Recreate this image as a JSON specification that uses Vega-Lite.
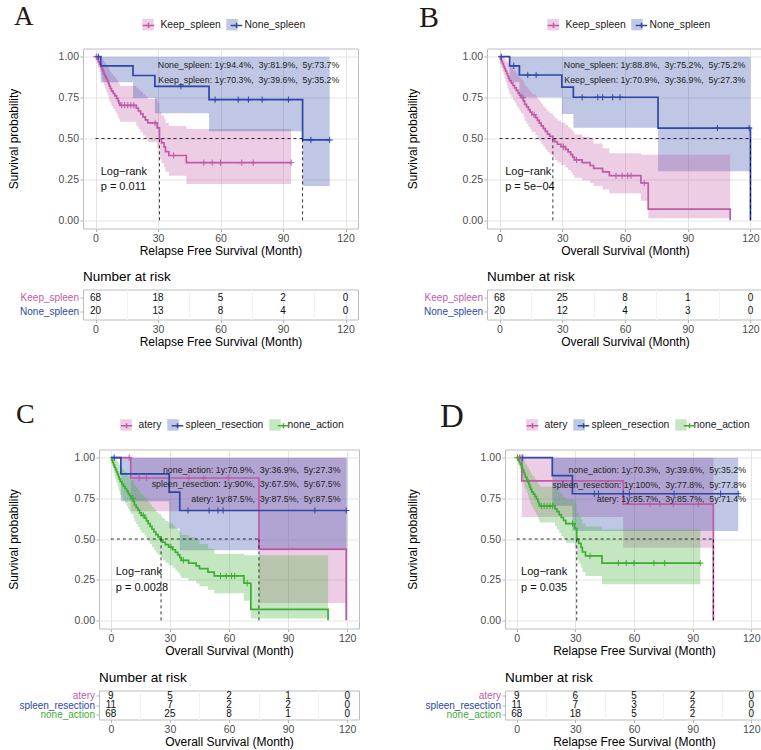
{
  "$schema": "https://vega.github.io/schema/vega-lite/v6.json",
  "background": "white",
  "padding": {"left": 5, "top": 2.5, "right": 0, "bottom": 0},
  "config": {
    "font": "Liberation Sans",
    "view": {"stroke": "#bdbdbd", "strokeWidth": 1},
    "axis": {
      "domain": false, "tickColor": "#b3b3b3", "tickSize": 3, "tickWidth": 1,
      "labelColor": "#4d4d4d", "labelFontSize": 10.5, "labelPadding": 1.5,
      "titleColor": "#000000", "titleFontSize": 12, "titleFontWeight": "normal", "titlePadding": 2,
      "gridColor": "#e4e4e4", "gridWidth": 1, "labelFlush": false, "labelOverlap": false
    }
  },
  "datasets": {
    "km": [
      {"p":"A","g":"Keep_spleen","t":0,"s":1,"lo":1,"hi":1},
      {"p":"A","g":"Keep_spleen","t":0.6,"s":0.985,"lo":0.957,"hi":1},
      {"p":"A","g":"Keep_spleen","t":1.4,"s":0.97,"lo":0.93,"hi":1},
      {"p":"A","g":"Keep_spleen","t":1.9,"s":0.955,"lo":0.907,"hi":1},
      {"p":"A","g":"Keep_spleen","t":2.5,"s":0.94,"lo":0.885,"hi":0.998},
      {"p":"A","g":"Keep_spleen","t":3.0,"s":0.925,"lo":0.864,"hi":0.99},
      {"p":"A","g":"Keep_spleen","t":3.5,"s":0.91,"lo":0.843,"hi":0.982},
      {"p":"A","g":"Keep_spleen","t":4.0,"s":0.895,"lo":0.824,"hi":0.972},
      {"p":"A","g":"Keep_spleen","t":4.4,"s":0.88,"lo":0.805,"hi":0.962},
      {"p":"A","g":"Keep_spleen","t":5.1,"s":0.865,"lo":0.786,"hi":0.952},
      {"p":"A","g":"Keep_spleen","t":5.7,"s":0.85,"lo":0.768,"hi":0.941},
      {"p":"A","g":"Keep_spleen","t":6.2,"s":0.835,"lo":0.75,"hi":0.93},
      {"p":"A","g":"Keep_spleen","t":6.6,"s":0.82,"lo":0.732,"hi":0.918},
      {"p":"A","g":"Keep_spleen","t":7.1,"s":0.805,"lo":0.715,"hi":0.906},
      {"p":"A","g":"Keep_spleen","t":7.7,"s":0.79,"lo":0.698,"hi":0.894},
      {"p":"A","g":"Keep_spleen","t":8.5,"s":0.775,"lo":0.681,"hi":0.882},
      {"p":"A","g":"Keep_spleen","t":9.3,"s":0.76,"lo":0.665,"hi":0.869},
      {"p":"A","g":"Keep_spleen","t":10.1,"s":0.745,"lo":0.648,"hi":0.857},
      {"p":"A","g":"Keep_spleen","t":10.8,"s":0.73,"lo":0.632,"hi":0.844},
      {"p":"A","g":"Keep_spleen","t":11.2,"s":0.718,"lo":0.618,"hi":0.834},
      {"p":"A","g":"Keep_spleen","t":11.7,"s":0.703,"lo":0.602,"hi":0.821},
      {"p":"A","g":"Keep_spleen","t":19.6,"s":0.685,"lo":0.578,"hi":0.81},
      {"p":"A","g":"Keep_spleen","t":20.6,"s":0.668,"lo":0.558,"hi":0.798},
      {"p":"A","g":"Keep_spleen","t":21.7,"s":0.65,"lo":0.538,"hi":0.785},
      {"p":"A","g":"Keep_spleen","t":22.8,"s":0.632,"lo":0.518,"hi":0.771},
      {"p":"A","g":"Keep_spleen","t":23.9,"s":0.614,"lo":0.498,"hi":0.757},
      {"p":"A","g":"Keep_spleen","t":25.1,"s":0.595,"lo":0.477,"hi":0.742},
      {"p":"A","g":"Keep_spleen","t":29.6,"s":0.565,"lo":0.444,"hi":0.719},
      {"p":"A","g":"Keep_spleen","t":30.7,"s":0.497,"lo":0.374,"hi":0.661},
      {"p":"A","g":"Keep_spleen","t":31.7,"s":0.473,"lo":0.35,"hi":0.64},
      {"p":"A","g":"Keep_spleen","t":32.9,"s":0.449,"lo":0.325,"hi":0.62},
      {"p":"A","g":"Keep_spleen","t":33.6,"s":0.42,"lo":0.297,"hi":0.595},
      {"p":"A","g":"Keep_spleen","t":35.2,"s":0.396,"lo":0.272,"hi":0.577},
      {"p":"A","g":"Keep_spleen","t":43.6,"s":0.352,"lo":0.222,"hi":0.558},
      {"p":"A","g":"Keep_spleen","t":93.9,"s":0.352,"lo":0.222,"hi":0.558},
      {"p":"A","g":"None_spleen","t":0,"s":1,"lo":1,"hi":1},
      {"p":"A","g":"None_spleen","t":2.5,"s":0.944,"lo":0.844,"hi":1},
      {"p":"A","g":"None_spleen","t":18,"s":0.885,"lo":0.748,"hi":1},
      {"p":"A","g":"None_spleen","t":28.5,"s":0.819,"lo":0.655,"hi":1},
      {"p":"A","g":"None_spleen","t":54.5,"s":0.737,"lo":0.544,"hi":1},
      {"p":"A","g":"None_spleen","t":99.4,"s":0.491,"lo":0.209,"hi":1},
      {"p":"A","g":"None_spleen","t":112.4,"s":0.491,"lo":0.209,"hi":1},
      {"p":"B","g":"None_spleen","t":0,"s":1,"lo":1,"hi":1},
      {"p":"B","g":"None_spleen","t":4.8,"s":0.944,"lo":0.844,"hi":1},
      {"p":"B","g":"None_spleen","t":9.5,"s":0.888,"lo":0.75,"hi":1},
      {"p":"B","g":"None_spleen","t":29.8,"s":0.814,"lo":0.65,"hi":1},
      {"p":"B","g":"None_spleen","t":35.3,"s":0.752,"lo":0.565,"hi":1},
      {"p":"B","g":"None_spleen","t":75.8,"s":0.564,"lo":0.3,"hi":1},
      {"p":"B","g":"None_spleen","t":120,"s":0,"lo":0,"hi":0},
      {"p":"B","g":"Keep_spleen","t":0,"s":1,"lo":1,"hi":1},
      {"p":"B","g":"Keep_spleen","t":0.4,"s":0.985,"lo":0.957,"hi":1},
      {"p":"B","g":"Keep_spleen","t":0.9,"s":0.971,"lo":0.931,"hi":1},
      {"p":"B","g":"Keep_spleen","t":1.4,"s":0.956,"lo":0.908,"hi":1},
      {"p":"B","g":"Keep_spleen","t":1.9,"s":0.941,"lo":0.886,"hi":0.999},
      {"p":"B","g":"Keep_spleen","t":2.4,"s":0.926,"lo":0.865,"hi":0.991},
      {"p":"B","g":"Keep_spleen","t":2.9,"s":0.912,"lo":0.845,"hi":0.983},
      {"p":"B","g":"Keep_spleen","t":3.4,"s":0.897,"lo":0.826,"hi":0.974},
      {"p":"B","g":"Keep_spleen","t":3.9,"s":0.882,"lo":0.807,"hi":0.964},
      {"p":"B","g":"Keep_spleen","t":4.3,"s":0.868,"lo":0.789,"hi":0.954},
      {"p":"B","g":"Keep_spleen","t":4.8,"s":0.853,"lo":0.771,"hi":0.944},
      {"p":"B","g":"Keep_spleen","t":5.6,"s":0.838,"lo":0.753,"hi":0.933},
      {"p":"B","g":"Keep_spleen","t":6.4,"s":0.824,"lo":0.736,"hi":0.922},
      {"p":"B","g":"Keep_spleen","t":7.2,"s":0.809,"lo":0.719,"hi":0.91},
      {"p":"B","g":"Keep_spleen","t":8.0,"s":0.794,"lo":0.702,"hi":0.898},
      {"p":"B","g":"Keep_spleen","t":8.8,"s":0.779,"lo":0.685,"hi":0.886},
      {"p":"B","g":"Keep_spleen","t":9.5,"s":0.765,"lo":0.669,"hi":0.874},
      {"p":"B","g":"Keep_spleen","t":10.3,"s":0.75,"lo":0.653,"hi":0.861},
      {"p":"B","g":"Keep_spleen","t":11.5,"s":0.729,"lo":0.63,"hi":0.843},
      {"p":"B","g":"Keep_spleen","t":12.0,"s":0.709,"lo":0.608,"hi":0.826},
      {"p":"B","g":"Keep_spleen","t":12.9,"s":0.693,"lo":0.59,"hi":0.813},
      {"p":"B","g":"Keep_spleen","t":13.8,"s":0.677,"lo":0.573,"hi":0.8},
      {"p":"B","g":"Keep_spleen","t":14.6,"s":0.661,"lo":0.556,"hi":0.786},
      {"p":"B","g":"Keep_spleen","t":15.5,"s":0.645,"lo":0.539,"hi":0.772},
      {"p":"B","g":"Keep_spleen","t":17.2,"s":0.628,"lo":0.521,"hi":0.757},
      {"p":"B","g":"Keep_spleen","t":18.1,"s":0.611,"lo":0.503,"hi":0.742},
      {"p":"B","g":"Keep_spleen","t":19.0,"s":0.594,"lo":0.486,"hi":0.727},
      {"p":"B","g":"Keep_spleen","t":19.9,"s":0.577,"lo":0.468,"hi":0.712},
      {"p":"B","g":"Keep_spleen","t":20.9,"s":0.56,"lo":0.45,"hi":0.696},
      {"p":"B","g":"Keep_spleen","t":21.9,"s":0.543,"lo":0.433,"hi":0.681},
      {"p":"B","g":"Keep_spleen","t":22.9,"s":0.527,"lo":0.416,"hi":0.666},
      {"p":"B","g":"Keep_spleen","t":24.0,"s":0.513,"lo":0.402,"hi":0.654},
      {"p":"B","g":"Keep_spleen","t":25.5,"s":0.496,"lo":0.385,"hi":0.638},
      {"p":"B","g":"Keep_spleen","t":26.4,"s":0.48,"lo":0.369,"hi":0.624},
      {"p":"B","g":"Keep_spleen","t":27.7,"s":0.465,"lo":0.354,"hi":0.61},
      {"p":"B","g":"Keep_spleen","t":29.4,"s":0.45,"lo":0.339,"hi":0.597},
      {"p":"B","g":"Keep_spleen","t":31.5,"s":0.434,"lo":0.323,"hi":0.583},
      {"p":"B","g":"Keep_spleen","t":32.8,"s":0.418,"lo":0.307,"hi":0.569},
      {"p":"B","g":"Keep_spleen","t":34.0,"s":0.402,"lo":0.292,"hi":0.555},
      {"p":"B","g":"Keep_spleen","t":35.0,"s":0.386,"lo":0.276,"hi":0.541},
      {"p":"B","g":"Keep_spleen","t":35.8,"s":0.369,"lo":0.26,"hi":0.525},
      {"p":"B","g":"Keep_spleen","t":39.5,"s":0.352,"lo":0.243,"hi":0.51},
      {"p":"B","g":"Keep_spleen","t":43.3,"s":0.335,"lo":0.226,"hi":0.496},
      {"p":"B","g":"Keep_spleen","t":45.0,"s":0.318,"lo":0.21,"hi":0.47},
      {"p":"B","g":"Keep_spleen","t":49.3,"s":0.296,"lo":0.188,"hi":0.44},
      {"p":"B","g":"Keep_spleen","t":52.5,"s":0.273,"lo":0.166,"hi":0.41},
      {"p":"B","g":"Keep_spleen","t":67.6,"s":0.228,"lo":0.12,"hi":0.4},
      {"p":"B","g":"Keep_spleen","t":71.1,"s":0.068,"lo":0.012,"hi":0.4},
      {"p":"B","g":"Keep_spleen","t":110.3,"s":0,"lo":0,"hi":0},
      {"p":"C","g":"atery","t":0,"s":1,"lo":1,"hi":1},
      {"p":"C","g":"atery","t":10.1,"s":0.875,"lo":0.67,"hi":1},
      {"p":"C","g":"atery","t":75.2,"s":0.4375,"lo":0.107,"hi":1},
      {"p":"C","g":"atery","t":119.5,"s":0,"lo":0,"hi":0},
      {"p":"C","g":"spleen_resection","t":0,"s":1,"lo":1,"hi":1},
      {"p":"C","g":"spleen_resection","t":5.1,"s":0.9,"lo":0.732,"hi":1},
      {"p":"C","g":"spleen_resection","t":29.6,"s":0.7875,"lo":0.564,"hi":1},
      {"p":"C","g":"spleen_resection","t":35,"s":0.675,"lo":0.431,"hi":1},
      {"p":"C","g":"spleen_resection","t":120,"s":0.675,"lo":0.431,"hi":1},
      {"p":"C","g":"none_action","t":0,"s":1,"lo":1,"hi":1},
      {"p":"C","g":"none_action","t":0.4,"s":0.985,"lo":0.957,"hi":1},
      {"p":"C","g":"none_action","t":0.9,"s":0.971,"lo":0.931,"hi":1},
      {"p":"C","g":"none_action","t":1.4,"s":0.956,"lo":0.908,"hi":1},
      {"p":"C","g":"none_action","t":1.9,"s":0.941,"lo":0.886,"hi":0.999},
      {"p":"C","g":"none_action","t":2.4,"s":0.926,"lo":0.865,"hi":0.991},
      {"p":"C","g":"none_action","t":2.9,"s":0.912,"lo":0.845,"hi":0.983},
      {"p":"C","g":"none_action","t":3.4,"s":0.897,"lo":0.826,"hi":0.974},
      {"p":"C","g":"none_action","t":3.9,"s":0.882,"lo":0.807,"hi":0.964},
      {"p":"C","g":"none_action","t":4.3,"s":0.868,"lo":0.789,"hi":0.954},
      {"p":"C","g":"none_action","t":4.8,"s":0.853,"lo":0.771,"hi":0.944},
      {"p":"C","g":"none_action","t":5.6,"s":0.838,"lo":0.753,"hi":0.933},
      {"p":"C","g":"none_action","t":6.4,"s":0.824,"lo":0.736,"hi":0.922},
      {"p":"C","g":"none_action","t":7.2,"s":0.809,"lo":0.719,"hi":0.91},
      {"p":"C","g":"none_action","t":8.0,"s":0.794,"lo":0.702,"hi":0.898},
      {"p":"C","g":"none_action","t":8.8,"s":0.779,"lo":0.685,"hi":0.886},
      {"p":"C","g":"none_action","t":9.5,"s":0.765,"lo":0.669,"hi":0.874},
      {"p":"C","g":"none_action","t":10.3,"s":0.75,"lo":0.653,"hi":0.861},
      {"p":"C","g":"none_action","t":11.5,"s":0.729,"lo":0.63,"hi":0.843},
      {"p":"C","g":"none_action","t":12.0,"s":0.709,"lo":0.608,"hi":0.826},
      {"p":"C","g":"none_action","t":12.9,"s":0.693,"lo":0.59,"hi":0.813},
      {"p":"C","g":"none_action","t":13.8,"s":0.677,"lo":0.573,"hi":0.8},
      {"p":"C","g":"none_action","t":14.6,"s":0.661,"lo":0.556,"hi":0.786},
      {"p":"C","g":"none_action","t":15.5,"s":0.645,"lo":0.539,"hi":0.772},
      {"p":"C","g":"none_action","t":17.2,"s":0.628,"lo":0.521,"hi":0.757},
      {"p":"C","g":"none_action","t":18.1,"s":0.611,"lo":0.503,"hi":0.742},
      {"p":"C","g":"none_action","t":19.0,"s":0.594,"lo":0.486,"hi":0.727},
      {"p":"C","g":"none_action","t":19.9,"s":0.577,"lo":0.468,"hi":0.712},
      {"p":"C","g":"none_action","t":20.9,"s":0.56,"lo":0.45,"hi":0.696},
      {"p":"C","g":"none_action","t":21.9,"s":0.543,"lo":0.433,"hi":0.681},
      {"p":"C","g":"none_action","t":22.9,"s":0.527,"lo":0.416,"hi":0.666},
      {"p":"C","g":"none_action","t":24.0,"s":0.513,"lo":0.402,"hi":0.654},
      {"p":"C","g":"none_action","t":25.5,"s":0.496,"lo":0.385,"hi":0.638},
      {"p":"C","g":"none_action","t":26.4,"s":0.48,"lo":0.369,"hi":0.624},
      {"p":"C","g":"none_action","t":27.7,"s":0.465,"lo":0.354,"hi":0.61},
      {"p":"C","g":"none_action","t":29.4,"s":0.45,"lo":0.339,"hi":0.597},
      {"p":"C","g":"none_action","t":31.5,"s":0.434,"lo":0.323,"hi":0.583},
      {"p":"C","g":"none_action","t":32.8,"s":0.418,"lo":0.307,"hi":0.569},
      {"p":"C","g":"none_action","t":34.0,"s":0.402,"lo":0.292,"hi":0.555},
      {"p":"C","g":"none_action","t":35.0,"s":0.386,"lo":0.276,"hi":0.541},
      {"p":"C","g":"none_action","t":35.8,"s":0.369,"lo":0.26,"hi":0.525},
      {"p":"C","g":"none_action","t":39.5,"s":0.352,"lo":0.243,"hi":0.51},
      {"p":"C","g":"none_action","t":43.3,"s":0.335,"lo":0.226,"hi":0.496},
      {"p":"C","g":"none_action","t":45.0,"s":0.318,"lo":0.21,"hi":0.47},
      {"p":"C","g":"none_action","t":49.3,"s":0.296,"lo":0.188,"hi":0.44},
      {"p":"C","g":"none_action","t":52.5,"s":0.273,"lo":0.166,"hi":0.41},
      {"p":"C","g":"none_action","t":67.6,"s":0.228,"lo":0.12,"hi":0.4},
      {"p":"C","g":"none_action","t":71.1,"s":0.068,"lo":0.012,"hi":0.4},
      {"p":"C","g":"none_action","t":110.3,"s":0,"lo":0,"hi":0},
      {"p":"D","g":"atery","t":0,"s":1,"lo":1,"hi":1},
      {"p":"D","g":"atery","t":2.6,"s":0.857,"lo":0.635,"hi":1},
      {"p":"D","g":"atery","t":54.5,"s":0.714,"lo":0.447,"hi":1},
      {"p":"D","g":"atery","t":100.6,"s":0,"lo":0,"hi":0},
      {"p":"D","g":"spleen_resection","t":0,"s":1,"lo":1,"hi":1},
      {"p":"D","g":"spleen_resection","t":18.2,"s":0.889,"lo":0.705,"hi":1},
      {"p":"D","g":"spleen_resection","t":28.5,"s":0.778,"lo":0.549,"hi":1},
      {"p":"D","g":"spleen_resection","t":113.3,"s":0.778,"lo":0.549,"hi":1},
      {"p":"D","g":"none_action","t":0,"s":1,"lo":1,"hi":1},
      {"p":"D","g":"none_action","t":0.6,"s":0.985,"lo":0.957,"hi":1},
      {"p":"D","g":"none_action","t":1.4,"s":0.97,"lo":0.93,"hi":1},
      {"p":"D","g":"none_action","t":1.9,"s":0.955,"lo":0.907,"hi":1},
      {"p":"D","g":"none_action","t":2.5,"s":0.94,"lo":0.885,"hi":0.998},
      {"p":"D","g":"none_action","t":3.0,"s":0.925,"lo":0.864,"hi":0.99},
      {"p":"D","g":"none_action","t":3.5,"s":0.91,"lo":0.843,"hi":0.982},
      {"p":"D","g":"none_action","t":4.0,"s":0.895,"lo":0.824,"hi":0.972},
      {"p":"D","g":"none_action","t":4.4,"s":0.88,"lo":0.805,"hi":0.962},
      {"p":"D","g":"none_action","t":5.1,"s":0.865,"lo":0.786,"hi":0.952},
      {"p":"D","g":"none_action","t":5.7,"s":0.85,"lo":0.768,"hi":0.941},
      {"p":"D","g":"none_action","t":6.2,"s":0.835,"lo":0.75,"hi":0.93},
      {"p":"D","g":"none_action","t":6.6,"s":0.82,"lo":0.732,"hi":0.918},
      {"p":"D","g":"none_action","t":7.1,"s":0.805,"lo":0.715,"hi":0.906},
      {"p":"D","g":"none_action","t":7.7,"s":0.79,"lo":0.698,"hi":0.894},
      {"p":"D","g":"none_action","t":8.5,"s":0.775,"lo":0.681,"hi":0.882},
      {"p":"D","g":"none_action","t":9.3,"s":0.76,"lo":0.665,"hi":0.869},
      {"p":"D","g":"none_action","t":10.1,"s":0.745,"lo":0.648,"hi":0.857},
      {"p":"D","g":"none_action","t":10.8,"s":0.73,"lo":0.632,"hi":0.844},
      {"p":"D","g":"none_action","t":11.2,"s":0.718,"lo":0.618,"hi":0.834},
      {"p":"D","g":"none_action","t":11.7,"s":0.703,"lo":0.602,"hi":0.821},
      {"p":"D","g":"none_action","t":19.6,"s":0.685,"lo":0.578,"hi":0.81},
      {"p":"D","g":"none_action","t":20.6,"s":0.668,"lo":0.558,"hi":0.798},
      {"p":"D","g":"none_action","t":21.7,"s":0.65,"lo":0.538,"hi":0.785},
      {"p":"D","g":"none_action","t":22.8,"s":0.632,"lo":0.518,"hi":0.771},
      {"p":"D","g":"none_action","t":23.9,"s":0.614,"lo":0.498,"hi":0.757},
      {"p":"D","g":"none_action","t":25.1,"s":0.595,"lo":0.477,"hi":0.742},
      {"p":"D","g":"none_action","t":29.6,"s":0.565,"lo":0.444,"hi":0.719},
      {"p":"D","g":"none_action","t":30.7,"s":0.497,"lo":0.374,"hi":0.661},
      {"p":"D","g":"none_action","t":31.7,"s":0.473,"lo":0.35,"hi":0.64},
      {"p":"D","g":"none_action","t":32.9,"s":0.449,"lo":0.325,"hi":0.62},
      {"p":"D","g":"none_action","t":33.6,"s":0.42,"lo":0.297,"hi":0.595},
      {"p":"D","g":"none_action","t":35.2,"s":0.396,"lo":0.272,"hi":0.577},
      {"p":"D","g":"none_action","t":43.6,"s":0.352,"lo":0.222,"hi":0.558},
      {"p":"D","g":"none_action","t":93.9,"s":0.352,"lo":0.222,"hi":0.558}
    ],
    "cens": [
      {"p":"A","g":"Keep_spleen","t":0.4,"s":1},
      {"p":"A","g":"Keep_spleen","t":12.6,"s":0.703},
      {"p":"A","g":"Keep_spleen","t":14.0,"s":0.703},
      {"p":"A","g":"Keep_spleen","t":15.5,"s":0.703},
      {"p":"A","g":"Keep_spleen","t":17.0,"s":0.703},
      {"p":"A","g":"Keep_spleen","t":18.4,"s":0.703},
      {"p":"A","g":"Keep_spleen","t":28.6,"s":0.595},
      {"p":"A","g":"Keep_spleen","t":37.5,"s":0.396},
      {"p":"A","g":"Keep_spleen","t":52,"s":0.352},
      {"p":"A","g":"Keep_spleen","t":56,"s":0.352},
      {"p":"A","g":"Keep_spleen","t":60,"s":0.352},
      {"p":"A","g":"Keep_spleen","t":70.2,"s":0.352},
      {"p":"A","g":"Keep_spleen","t":75.7,"s":0.352},
      {"p":"A","g":"Keep_spleen","t":93.9,"s":0.352},
      {"p":"A","g":"None_spleen","t":1.4,"s":1},
      {"p":"A","g":"None_spleen","t":41,"s":0.819},
      {"p":"A","g":"None_spleen","t":57.4,"s":0.737},
      {"p":"A","g":"None_spleen","t":68.5,"s":0.737},
      {"p":"A","g":"None_spleen","t":73.4,"s":0.737},
      {"p":"A","g":"None_spleen","t":80,"s":0.737},
      {"p":"A","g":"None_spleen","t":92.6,"s":0.737},
      {"p":"A","g":"None_spleen","t":103.4,"s":0.491},
      {"p":"A","g":"None_spleen","t":112.4,"s":0.491},
      {"p":"B","g":"None_spleen","t":0.8,"s":1},
      {"p":"B","g":"None_spleen","t":6.8,"s":0.944},
      {"p":"B","g":"None_spleen","t":13.5,"s":0.888},
      {"p":"B","g":"None_spleen","t":17.5,"s":0.888},
      {"p":"B","g":"None_spleen","t":39.5,"s":0.752},
      {"p":"B","g":"None_spleen","t":47,"s":0.752},
      {"p":"B","g":"None_spleen","t":49.3,"s":0.752},
      {"p":"B","g":"None_spleen","t":54.1,"s":0.752},
      {"p":"B","g":"None_spleen","t":57.6,"s":0.752},
      {"p":"B","g":"None_spleen","t":104.2,"s":0.564},
      {"p":"B","g":"None_spleen","t":119.4,"s":0.564},
      {"p":"B","g":"Keep_spleen","t":11.1,"s":0.75},
      {"p":"B","g":"Keep_spleen","t":16.5,"s":0.645},
      {"p":"B","g":"Keep_spleen","t":30.5,"s":0.45},
      {"p":"B","g":"Keep_spleen","t":36.8,"s":0.369},
      {"p":"B","g":"Keep_spleen","t":55.7,"s":0.273},
      {"p":"B","g":"Keep_spleen","t":58.6,"s":0.273},
      {"p":"B","g":"Keep_spleen","t":61.3,"s":0.273},
      {"p":"B","g":"Keep_spleen","t":62.9,"s":0.273},
      {"p":"B","g":"Keep_spleen","t":69.2,"s":0.228},
      {"p":"C","g":"atery","t":9.3,"s":1},
      {"p":"C","g":"atery","t":14.4,"s":0.875},
      {"p":"C","g":"atery","t":18.1,"s":0.875},
      {"p":"C","g":"atery","t":39.7,"s":0.875},
      {"p":"C","g":"atery","t":47.3,"s":0.875},
      {"p":"C","g":"atery","t":59.7,"s":0.875},
      {"p":"C","g":"spleen_resection","t":1.7,"s":1},
      {"p":"C","g":"spleen_resection","t":39.2,"s":0.675},
      {"p":"C","g":"spleen_resection","t":49.9,"s":0.675},
      {"p":"C","g":"spleen_resection","t":54.4,"s":0.675},
      {"p":"C","g":"spleen_resection","t":57,"s":0.675},
      {"p":"C","g":"spleen_resection","t":103.6,"s":0.675},
      {"p":"C","g":"spleen_resection","t":119.5,"s":0.675},
      {"p":"C","g":"none_action","t":11.1,"s":0.75},
      {"p":"C","g":"none_action","t":16.5,"s":0.645},
      {"p":"C","g":"none_action","t":30.5,"s":0.45},
      {"p":"C","g":"none_action","t":36.8,"s":0.369},
      {"p":"C","g":"none_action","t":55.7,"s":0.273},
      {"p":"C","g":"none_action","t":58.6,"s":0.273},
      {"p":"C","g":"none_action","t":61.3,"s":0.273},
      {"p":"C","g":"none_action","t":62.9,"s":0.273},
      {"p":"C","g":"none_action","t":69.2,"s":0.228},
      {"p":"D","g":"atery","t":1.4,"s":1},
      {"p":"D","g":"atery","t":2.2,"s":1},
      {"p":"D","g":"atery","t":68.2,"s":0.714},
      {"p":"D","g":"atery","t":73.3,"s":0.714},
      {"p":"D","g":"atery","t":80.1,"s":0.714},
      {"p":"D","g":"atery","t":92.9,"s":0.714},
      {"p":"D","g":"spleen_resection","t":3.1,"s":1},
      {"p":"D","g":"spleen_resection","t":39.7,"s":0.778},
      {"p":"D","g":"spleen_resection","t":41.8,"s":0.778},
      {"p":"D","g":"spleen_resection","t":54.5,"s":0.778},
      {"p":"D","g":"spleen_resection","t":57.6,"s":0.778},
      {"p":"D","g":"spleen_resection","t":80.5,"s":0.778},
      {"p":"D","g":"spleen_resection","t":104.3,"s":0.778},
      {"p":"D","g":"spleen_resection","t":113.3,"s":0.778},
      {"p":"D","g":"none_action","t":0.4,"s":1},
      {"p":"D","g":"none_action","t":12.6,"s":0.703},
      {"p":"D","g":"none_action","t":14.0,"s":0.703},
      {"p":"D","g":"none_action","t":15.5,"s":0.703},
      {"p":"D","g":"none_action","t":17.0,"s":0.703},
      {"p":"D","g":"none_action","t":18.4,"s":0.703},
      {"p":"D","g":"none_action","t":28.6,"s":0.595},
      {"p":"D","g":"none_action","t":37.5,"s":0.396},
      {"p":"D","g":"none_action","t":52,"s":0.352},
      {"p":"D","g":"none_action","t":56,"s":0.352},
      {"p":"D","g":"none_action","t":60,"s":0.352},
      {"p":"D","g":"none_action","t":70.2,"s":0.352},
      {"p":"D","g":"none_action","t":75.7,"s":0.352},
      {"p":"D","g":"none_action","t":93.9,"s":0.352}
    ],
    "med": [
      {"p":"A","t":0,"s":0.5,"t2":99.4,"s2":0.5},
      {"p":"A","t":30.7,"s":0,"t2":30.7,"s2":0.5},
      {"p":"A","t":99.4,"s":0,"t2":99.4,"s2":0.5},
      {"p":"B","t":0,"s":0.5,"t2":120,"s2":0.5},
      {"p":"B","t":25.5,"s":0,"t2":25.5,"s2":0.5},
      {"p":"B","t":120,"s":0,"t2":120,"s2":0.5},
      {"p":"C","t":0,"s":0.5,"t2":75.2,"s2":0.5},
      {"p":"C","t":25.5,"s":0,"t2":25.5,"s2":0.5},
      {"p":"C","t":75.2,"s":0,"t2":75.2,"s2":0.5},
      {"p":"D","t":0,"s":0.5,"t2":100.6,"s2":0.5},
      {"p":"D","t":30.7,"s":0,"t2":30.7,"s2":0.5},
      {"p":"D","t":100.6,"s":0,"t2":100.6,"s2":0.5}
    ],
    "rates": [
      {"p":"A","t":117,"s":0.949,"label":"None_spleen: 1y:94.4%,\u00a0 3y:81.9%,\u00a0 5y:73.7%"},
      {"p":"A","t":117,"s":0.857,"label":"Keep_spleen: 1y:70.3%,\u00a0 3y:39.6%,\u00a0 5y:35.2%"},
      {"p":"B","t":117.5,"s":0.949,"label":"None_spleen: 1y:88.8%,\u00a0 3y:75.2%,\u00a0 5y:75.2%"},
      {"p":"B","t":117.5,"s":0.857,"label":"Keep_spleen: 1y:70.9%,\u00a0 3y:36.9%,\u00a0 5y:27.3%"},
      {"p":"C","t":116.6,"s":0.926,"label":"none_action: 1y:70.9%,\u00a0 3y:36.9%,\u00a0 5y:27.3%"},
      {"p":"C","t":116.6,"s":0.84,"label":"spleen_resection: 1y:90%,\u00a0 3y:67.5%,\u00a0 5y:67.5%"},
      {"p":"C","t":116.6,"s":0.748,"label":"atery: 1y:87.5%,\u00a0 3y:87.5%,\u00a0 5y:87.5%"},
      {"p":"D","t":117.3,"s":0.926,"label":"none_action: 1y:70.3%,\u00a0 3y:39.6%,\u00a0 5y:35.2%"},
      {"p":"D","t":117.3,"s":0.834,"label":"spleen_resection: 1y:100%,\u00a0 3y:77.8%,\u00a0 5y:77.8%"},
      {"p":"D","t":117.3,"s":0.746,"label":"atery: 1y:85.7%,\u00a0 3y:85.7%,\u00a0 5y:71.4%"}
    ],
    "logrank": [
      {"p":"A","t":2.5,"s":0.296,"label":"Log\u2212rank"},
      {"p":"A","t":2.5,"s":0.204,"label":"p = 0.011"},
      {"p":"B","t":2.7,"s":0.296,"label":"Log\u2212rank"},
      {"p":"B","t":2.7,"s":0.204,"label":"p = 5e\u221204"},
      {"p":"C","t":2.5,"s":0.295,"label":"Log\u2212rank"},
      {"p":"C","t":2.5,"s":0.199,"label":"p = 0.0028"},
      {"p":"D","t":2.2,"s":0.295,"label":"Log\u2212rank"},
      {"p":"D","t":2.2,"s":0.199,"label":"p = 0.035"}
    ],
    "risk": [
      {"p":"A","g":"Keep_spleen","t":0,"n":68},{"p":"A","g":"Keep_spleen","t":30,"n":18},{"p":"A","g":"Keep_spleen","t":60,"n":5},{"p":"A","g":"Keep_spleen","t":90,"n":2},{"p":"A","g":"Keep_spleen","t":120,"n":0},
      {"p":"A","g":"None_spleen","t":0,"n":20},{"p":"A","g":"None_spleen","t":30,"n":13},{"p":"A","g":"None_spleen","t":60,"n":8},{"p":"A","g":"None_spleen","t":90,"n":4},{"p":"A","g":"None_spleen","t":120,"n":0},
      {"p":"B","g":"Keep_spleen","t":0,"n":68},{"p":"B","g":"Keep_spleen","t":30,"n":25},{"p":"B","g":"Keep_spleen","t":60,"n":8},{"p":"B","g":"Keep_spleen","t":90,"n":1},{"p":"B","g":"Keep_spleen","t":120,"n":0},
      {"p":"B","g":"None_spleen","t":0,"n":20},{"p":"B","g":"None_spleen","t":30,"n":12},{"p":"B","g":"None_spleen","t":60,"n":4},{"p":"B","g":"None_spleen","t":90,"n":3},{"p":"B","g":"None_spleen","t":120,"n":0},
      {"p":"C","g":"atery","t":0,"n":9},{"p":"C","g":"atery","t":30,"n":5},{"p":"C","g":"atery","t":60,"n":2},{"p":"C","g":"atery","t":90,"n":1},{"p":"C","g":"atery","t":120,"n":0},
      {"p":"C","g":"spleen_resection","t":0,"n":11},{"p":"C","g":"spleen_resection","t":30,"n":7},{"p":"C","g":"spleen_resection","t":60,"n":2},{"p":"C","g":"spleen_resection","t":90,"n":2},{"p":"C","g":"spleen_resection","t":120,"n":0},
      {"p":"C","g":"none_action","t":0,"n":68},{"p":"C","g":"none_action","t":30,"n":25},{"p":"C","g":"none_action","t":60,"n":8},{"p":"C","g":"none_action","t":90,"n":1},{"p":"C","g":"none_action","t":120,"n":0},
      {"p":"D","g":"atery","t":0,"n":9},{"p":"D","g":"atery","t":30,"n":6},{"p":"D","g":"atery","t":60,"n":5},{"p":"D","g":"atery","t":90,"n":2},{"p":"D","g":"atery","t":120,"n":0},
      {"p":"D","g":"spleen_resection","t":0,"n":11},{"p":"D","g":"spleen_resection","t":30,"n":7},{"p":"D","g":"spleen_resection","t":60,"n":3},{"p":"D","g":"spleen_resection","t":90,"n":2},{"p":"D","g":"spleen_resection","t":120,"n":0},
      {"p":"D","g":"none_action","t":0,"n":68},{"p":"D","g":"none_action","t":30,"n":18},{"p":"D","g":"none_action","t":60,"n":5},{"p":"D","g":"none_action","t":90,"n":2},{"p":"D","g":"none_action","t":120,"n":0}
    ]
  },
  "resolve": {"scale": {"fill": "independent", "stroke": "independent"}},
  "columns": 1,
  "align": "none",
  "spacing": 51,
  "concat": [
    {
      "resolve": {"scale": {"fill": "independent", "stroke": "independent"}},
      "spacing": 0,
      "hconcat": [
        {"width": 1, "height": 1, "view": {"stroke": null}, "data": {"values": []}, "mark": "text"},
        {
          "resolve": {"scale": {"fill": "independent", "stroke": "independent"}},
          "spacing": 46,
          "hconcat": [
            {
              "resolve": {"scale": {"fill": "independent", "stroke": "independent"}},
              "spacing": 12,
              "vconcat": [
                {
                  "width": 275, "height": 180,
                  "title": {"text": "A", "anchor": "start", "frame": "bounds", "font": "Liberation Serif", "fontSize": 27, "fontWeight": "normal", "color": "#231815", "baseline": "alphabetic", "offset": 0, "dx": 7, "dy": 33.5},
                  "layer": [
                    {
                      "data": {"name": "km"}, "transform": [{"filter": "datum.p === 'A'"}],
                      "mark": {"type": "area", "interpolate": "step-after", "fillOpacity": 0.3},
                      "encoding": {
                        "x": {"field": "t", "type": "quantitative", "scale": {"domain": [-6, 126], "nice": false, "zero": false},
                          "axis": {"title": "Relapse Free Survival (Month)", "values": [0,15,30,45,60,75,90,105,120], "labelExpr": "datum.value % 30 === 0 ? datum.label : ''", "gridColor": {"condition": {"test": "datum.value % 30 !== 0", "value": "#f2f2f2"}, "value": "#e4e4e4"}, "tickOpacity": {"condition": {"test": "datum.value % 30 !== 0", "value": 0}, "value": 1}}},
                        "y": {"field": "lo", "type": "quantitative", "stack": null, "scale": {"domain": [-0.05, 1.05], "nice": false, "zero": false},
                          "axis": {"title": "Survival probability", "titlePadding": 38, "values": [0,0.125,0.25,0.375,0.5,0.625,0.75,0.875,1], "format": ".2f", "labelExpr": "(datum.value * 8) % 2 === 0 ? datum.label : ''", "gridColor": {"condition": {"test": "(datum.value * 8) % 2 !== 0", "value": "#f2f2f2"}, "value": "#e4e4e4"}, "tickOpacity": {"condition": {"test": "(datum.value * 8) % 2 !== 0", "value": 0}, "value": 1}}},
                        "y2": {"field": "hi"},
                        "fill": {"field": "g", "type": "nominal", "sort": ["Keep_spleen", "None_spleen"], "scale": {"range": ["#BF5BA6", "#2C47A8"]},
                          "legend": {"orient": "none", "legendX": 59, "legendY": -30, "direction": "horizontal", "title": null, "symbolType": "square", "symbolSize": 132, "symbolOpacity": 0.3, "symbolStrokeWidth": 0, "labelFontSize": 10.3, "labelColor": "#1a1a1a", "labelOffset": 6.5, "columnPadding": 5, "padding": 0}}
                      }
                    },
                    {
                      "data": {"name": "km"}, "transform": [{"filter": "datum.p === 'A'"}],
                      "mark": {"type": "line", "interpolate": "step-after", "strokeWidth": 1.7},
                      "encoding": {
                        "x": {"field": "t", "type": "quantitative", "scale": {"domain": [-6, 126], "nice": false, "zero": false}},
                        "y": {"field": "s", "type": "quantitative", "scale": {"domain": [-0.05, 1.05], "nice": false, "zero": false}},
                        "stroke": {"field": "g", "type": "nominal", "scale": {"domain": ["Keep_spleen", "None_spleen"], "range": ["#BF5BA6", "#2C47A8"]},
                          "legend": {"orient": "none", "legendX": 59, "legendY": -30, "direction": "horizontal", "title": null, "symbolType": "M-1,0H1M0,-0.45V0.45", "symbolSize": 132, "symbolStrokeWidth": 1.5, "symbolFillColor": "transparent", "labelFontSize": 10.3, "labelOpacity": 0, "labelOffset": 6.5, "columnPadding": 5, "padding": 0}}
                      }
                    },
                    {
                      "data": {"name": "cens"}, "transform": [{"filter": "datum.p === 'A'"}],
                      "mark": {"type": "point", "shape": "M-1,0H1M0,-1V1", "filled": false, "size": 40, "strokeWidth": 1, "opacity": 1},
                      "encoding": {
                        "x": {"field": "t", "type": "quantitative", "scale": {"domain": [-6, 126], "nice": false, "zero": false}},
                        "y": {"field": "s", "type": "quantitative", "scale": {"domain": [-0.05, 1.05], "nice": false, "zero": false}},
                        "stroke": {"field": "g", "type": "nominal", "scale": {"domain": ["Keep_spleen", "None_spleen"], "range": ["#BF5BA6", "#2C47A8"]},
                          "legend": {"orient": "none", "legendX": 59, "legendY": -30, "direction": "horizontal", "title": null, "symbolType": "M-1,0H1M0,-0.45V0.45", "symbolSize": 132, "symbolStrokeWidth": 1.5, "symbolFillColor": "transparent", "labelFontSize": 10.3, "labelOpacity": 0, "labelOffset": 6.5, "columnPadding": 5, "padding": 0}}
                      }
                    },
                    {
                      "data": {"name": "med"}, "transform": [{"filter": "datum.p === 'A'"}],
                      "mark": {"type": "rule", "color": "#000000", "strokeDash": [3, 3], "strokeWidth": 0.8},
                      "encoding": {
                        "x": {"field": "t", "type": "quantitative", "scale": {"domain": [-6, 126], "nice": false, "zero": false}},
                        "x2": {"field": "t2"},
                        "y": {"field": "s", "type": "quantitative", "scale": {"domain": [-0.05, 1.05], "nice": false, "zero": false}},
                        "y2": {"field": "s2"}
                      }
                    },
                    {
                      "data": {"name": "rates"}, "transform": [{"filter": "datum.p === 'A'"}],
                      "mark": {"type": "text", "align": "right", "baseline": "middle", "fontSize": 8.8, "color": "#222222"},
                      "encoding": {
                        "x": {"field": "t", "type": "quantitative", "scale": {"domain": [-6, 126], "nice": false, "zero": false}},
                        "y": {"field": "s", "type": "quantitative", "scale": {"domain": [-0.05, 1.05], "nice": false, "zero": false}},
                        "text": {"field": "label"}
                      }
                    },
                    {
                      "data": {"name": "logrank"}, "transform": [{"filter": "datum.p === 'A'"}],
                      "mark": {"type": "text", "align": "left", "baseline": "middle", "fontSize": 11, "color": "#111111"},
                      "encoding": {
                        "x": {"field": "t", "type": "quantitative", "scale": {"domain": [-6, 126], "nice": false, "zero": false}},
                        "y": {"field": "s", "type": "quantitative", "scale": {"domain": [-0.05, 1.05], "nice": false, "zero": false}},
                        "text": {"field": "label"}
                      }
                    }
                  ]
                },
                {
                  "width": 275, "height": 30,
                  "title": {"text": "Number at risk", "anchor": "start", "frame": "group", "fontSize": 13.5, "fontWeight": "normal", "color": "#000000", "baseline": "alphabetic", "offset": 8.5, "dy": 13.5},
                  "data": {"name": "risk"}, "transform": [{"filter": "datum.p === 'A'"}],
                  "mark": {"type": "text", "fontSize": 10, "color": "#111111", "baseline": "middle"},
                  "encoding": {
                    "x": {"field": "t", "type": "quantitative", "scale": {"domain": [-6, 126], "nice": false, "zero": false},
                      "axis": {"title": "Relapse Free Survival (Month)", "values": [0,15,30,45,60,75,90,105,120], "labelExpr": "datum.value % 30 === 0 ? datum.label : ''", "gridColor": {"condition": {"test": "datum.value % 30 !== 0", "value": "#f2f2f2"}, "value": "#e4e4e4"}, "tickOpacity": {"condition": {"test": "datum.value % 30 !== 0", "value": 0}, "value": 1}}},
                    "y": {"field": "g", "type": "nominal", "scale": {"type": "point", "domain": ["Keep_spleen", "None_spleen"], "padding": 0.6},
                      "axis": {"title": null, "labelFontSize": 10, "gridColor": "#ececec", "labelColor": {"condition": {"test": "datum.value === 'Keep_spleen'", "value": "#BF5BA6"}, "value": "#2C47A8"}}},
                    "text": {"field": "n", "type": "quantitative"}
                  }
                }
              ]
            },
            {
              "resolve": {"scale": {"fill": "independent", "stroke": "independent"}},
              "spacing": 12,
              "vconcat": [
                {
                  "width": 276, "height": 180,
                  "title": {"text": "B", "anchor": "start", "frame": "bounds", "font": "Liberation Serif", "fontSize": 30, "fontWeight": "normal", "color": "#231815", "baseline": "alphabetic", "offset": 0, "dx": 13, "dy": 38.5},
                  "layer": [
                    {
                      "data": {"name": "km"}, "transform": [{"filter": "datum.p === 'B'"}],
                      "mark": {"type": "area", "interpolate": "step-after", "fillOpacity": 0.3},
                      "encoding": {
                        "x": {"field": "t", "type": "quantitative", "scale": {"domain": [-6, 126], "nice": false, "zero": false},
                          "axis": {"title": "Overall Survival (Month)", "values": [0,15,30,45,60,75,90,105,120], "labelExpr": "datum.value % 30 === 0 ? datum.label : ''", "gridColor": {"condition": {"test": "datum.value % 30 !== 0", "value": "#f2f2f2"}, "value": "#e4e4e4"}, "tickOpacity": {"condition": {"test": "datum.value % 30 !== 0", "value": 0}, "value": 1}}},
                        "y": {"field": "lo", "type": "quantitative", "stack": null, "scale": {"domain": [-0.05, 1.05], "nice": false, "zero": false},
                          "axis": {"title": "Survival probability", "titlePadding": 43, "values": [0,0.125,0.25,0.375,0.5,0.625,0.75,0.875,1], "format": ".2f", "labelExpr": "(datum.value * 8) % 2 === 0 ? datum.label : ''", "gridColor": {"condition": {"test": "(datum.value * 8) % 2 !== 0", "value": "#f2f2f2"}, "value": "#e4e4e4"}, "tickOpacity": {"condition": {"test": "(datum.value * 8) % 2 !== 0", "value": 0}, "value": 1}}},
                        "y2": {"field": "hi"},
                        "fill": {"field": "g", "type": "nominal", "sort": ["Keep_spleen", "None_spleen"], "scale": {"range": ["#BF5BA6", "#2C47A8"]},
                          "legend": {"orient": "none", "legendX": 60, "legendY": -30, "direction": "horizontal", "title": null, "symbolType": "square", "symbolSize": 132, "symbolOpacity": 0.3, "symbolStrokeWidth": 0, "labelFontSize": 10.3, "labelColor": "#1a1a1a", "labelOffset": 6.5, "columnPadding": 5, "padding": 0}}
                      }
                    },
                    {
                      "data": {"name": "km"}, "transform": [{"filter": "datum.p === 'B'"}],
                      "mark": {"type": "line", "interpolate": "step-after", "strokeWidth": 1.7},
                      "encoding": {
                        "x": {"field": "t", "type": "quantitative", "scale": {"domain": [-6, 126], "nice": false, "zero": false}},
                        "y": {"field": "s", "type": "quantitative", "scale": {"domain": [-0.05, 1.05], "nice": false, "zero": false}},
                        "stroke": {"field": "g", "type": "nominal", "scale": {"domain": ["Keep_spleen", "None_spleen"], "range": ["#BF5BA6", "#2C47A8"]},
                          "legend": {"orient": "none", "legendX": 60, "legendY": -30, "direction": "horizontal", "title": null, "symbolType": "M-1,0H1M0,-0.45V0.45", "symbolSize": 132, "symbolStrokeWidth": 1.5, "symbolFillColor": "transparent", "labelFontSize": 10.3, "labelOpacity": 0, "labelOffset": 6.5, "columnPadding": 5, "padding": 0}}
                      }
                    },
                    {
                      "data": {"name": "cens"}, "transform": [{"filter": "datum.p === 'B'"}],
                      "mark": {"type": "point", "shape": "M-1,0H1M0,-1V1", "filled": false, "size": 40, "strokeWidth": 1, "opacity": 1},
                      "encoding": {
                        "x": {"field": "t", "type": "quantitative", "scale": {"domain": [-6, 126], "nice": false, "zero": false}},
                        "y": {"field": "s", "type": "quantitative", "scale": {"domain": [-0.05, 1.05], "nice": false, "zero": false}},
                        "stroke": {"field": "g", "type": "nominal", "scale": {"domain": ["Keep_spleen", "None_spleen"], "range": ["#BF5BA6", "#2C47A8"]},
                          "legend": {"orient": "none", "legendX": 60, "legendY": -30, "direction": "horizontal", "title": null, "symbolType": "M-1,0H1M0,-0.45V0.45", "symbolSize": 132, "symbolStrokeWidth": 1.5, "symbolFillColor": "transparent", "labelFontSize": 10.3, "labelOpacity": 0, "labelOffset": 6.5, "columnPadding": 5, "padding": 0}}
                      }
                    },
                    {
                      "data": {"name": "med"}, "transform": [{"filter": "datum.p === 'B'"}],
                      "mark": {"type": "rule", "color": "#000000", "strokeDash": [3, 3], "strokeWidth": 0.8},
                      "encoding": {
                        "x": {"field": "t", "type": "quantitative", "scale": {"domain": [-6, 126], "nice": false, "zero": false}},
                        "x2": {"field": "t2"},
                        "y": {"field": "s", "type": "quantitative", "scale": {"domain": [-0.05, 1.05], "nice": false, "zero": false}},
                        "y2": {"field": "s2"}
                      }
                    },
                    {
                      "data": {"name": "rates"}, "transform": [{"filter": "datum.p === 'B'"}],
                      "mark": {"type": "text", "align": "right", "baseline": "middle", "fontSize": 8.8, "color": "#222222"},
                      "encoding": {
                        "x": {"field": "t", "type": "quantitative", "scale": {"domain": [-6, 126], "nice": false, "zero": false}},
                        "y": {"field": "s", "type": "quantitative", "scale": {"domain": [-0.05, 1.05], "nice": false, "zero": false}},
                        "text": {"field": "label"}
                      }
                    },
                    {
                      "data": {"name": "logrank"}, "transform": [{"filter": "datum.p === 'B'"}],
                      "mark": {"type": "text", "align": "left", "baseline": "middle", "fontSize": 11, "color": "#111111"},
                      "encoding": {
                        "x": {"field": "t", "type": "quantitative", "scale": {"domain": [-6, 126], "nice": false, "zero": false}},
                        "y": {"field": "s", "type": "quantitative", "scale": {"domain": [-0.05, 1.05], "nice": false, "zero": false}},
                        "text": {"field": "label"}
                      }
                    }
                  ]
                },
                {
                  "width": 276, "height": 30,
                  "title": {"text": "Number at risk", "anchor": "start", "frame": "group", "fontSize": 13.5, "fontWeight": "normal", "color": "#000000", "baseline": "alphabetic", "offset": 8.5, "dy": 13.5},
                  "data": {"name": "risk"}, "transform": [{"filter": "datum.p === 'B'"}],
                  "mark": {"type": "text", "fontSize": 10, "color": "#111111", "baseline": "middle"},
                  "encoding": {
                    "x": {"field": "t", "type": "quantitative", "scale": {"domain": [-6, 126], "nice": false, "zero": false},
                      "axis": {"title": "Overall Survival (Month)", "values": [0,15,30,45,60,75,90,105,120], "labelExpr": "datum.value % 30 === 0 ? datum.label : ''", "gridColor": {"condition": {"test": "datum.value % 30 !== 0", "value": "#f2f2f2"}, "value": "#e4e4e4"}, "tickOpacity": {"condition": {"test": "datum.value % 30 !== 0", "value": 0}, "value": 1}}},
                    "y": {"field": "g", "type": "nominal", "scale": {"type": "point", "domain": ["Keep_spleen", "None_spleen"], "padding": 0.6},
                      "axis": {"title": null, "labelFontSize": 10, "gridColor": "#ececec", "labelColor": {"condition": {"test": "datum.value === 'Keep_spleen'", "value": "#BF5BA6"}, "value": "#2C47A8"}}},
                    "text": {"field": "n", "type": "quantitative"}
                  }
                }
              ]
            }
          ]
        }
      ]
    },
    {
      "resolve": {"scale": {"fill": "independent", "stroke": "independent"}},
      "spacing": 0,
      "hconcat": [
        {"width": 1, "height": 1, "view": {"stroke": null}, "data": {"values": []}, "mark": "text"},
        {
          "resolve": {"scale": {"fill": "independent", "stroke": "independent"}},
          "spacing": 45,
          "hconcat": [
            {
              "resolve": {"scale": {"fill": "independent", "stroke": "independent"}},
              "spacing": 13,
              "vconcat": [
                {
                  "width": 260, "height": 179,
                  "title": {"text": "C", "anchor": "start", "frame": "bounds", "font": "Liberation Serif", "fontSize": 28, "fontWeight": "normal", "color": "#231815", "baseline": "alphabetic", "offset": 0, "dx": 9, "dy": 32},
                  "layer": [
                    {
                      "data": {"name": "km"}, "transform": [{"filter": "datum.p === 'C'"}],
                      "mark": {"type": "area", "interpolate": "step-after", "fillOpacity": 0.3},
                      "encoding": {
                        "x": {"field": "t", "type": "quantitative", "scale": {"domain": [-6, 126], "nice": false, "zero": false},
                          "axis": {"title": "Overall Survival (Month)", "values": [0,15,30,45,60,75,90,105,120], "labelExpr": "datum.value % 30 === 0 ? datum.label : ''", "gridColor": {"condition": {"test": "datum.value % 30 !== 0", "value": "#f2f2f2"}, "value": "#e4e4e4"}, "tickOpacity": {"condition": {"test": "datum.value % 30 !== 0", "value": 0}, "value": 1}}},
                        "y": {"field": "lo", "type": "quantitative", "stack": null, "scale": {"domain": [-0.05, 1.05], "nice": false, "zero": false},
                          "axis": {"title": "Survival probability", "titlePadding": 54, "values": [0,0.125,0.25,0.375,0.5,0.625,0.75,0.875,1], "format": ".2f", "labelExpr": "(datum.value * 8) % 2 === 0 ? datum.label : ''", "gridColor": {"condition": {"test": "(datum.value * 8) % 2 !== 0", "value": "#f2f2f2"}, "value": "#e4e4e4"}, "tickOpacity": {"condition": {"test": "(datum.value * 8) % 2 !== 0", "value": 0}, "value": 1}}},
                        "y2": {"field": "hi"},
                        "fill": {"field": "g", "type": "nominal", "sort": ["atery", "spleen_resection", "none_action"], "scale": {"range": ["#BF5BA6", "#2C47A8", "#3DAE33"]},
                          "legend": {"orient": "none", "legendX": 21, "legendY": -30.7, "direction": "horizontal", "title": null, "symbolType": "square", "symbolSize": 132, "symbolOpacity": 0.3, "symbolStrokeWidth": 0, "labelFontSize": 10.3, "labelColor": "#1a1a1a", "labelOffset": 6.5, "columnPadding": 5, "padding": 0}}
                      }
                    },
                    {
                      "data": {"name": "km"}, "transform": [{"filter": "datum.p === 'C'"}],
                      "mark": {"type": "line", "interpolate": "step-after", "strokeWidth": 1.7},
                      "encoding": {
                        "x": {"field": "t", "type": "quantitative", "scale": {"domain": [-6, 126], "nice": false, "zero": false}},
                        "y": {"field": "s", "type": "quantitative", "scale": {"domain": [-0.05, 1.05], "nice": false, "zero": false}},
                        "stroke": {"field": "g", "type": "nominal", "scale": {"domain": ["atery", "spleen_resection", "none_action"], "range": ["#BF5BA6", "#2C47A8", "#3DAE33"]},
                          "legend": {"orient": "none", "legendX": 21, "legendY": -30.7, "direction": "horizontal", "title": null, "symbolType": "M-1,0H1M0,-0.45V0.45", "symbolSize": 132, "symbolStrokeWidth": 1.5, "symbolFillColor": "transparent", "labelFontSize": 10.3, "labelOpacity": 0, "labelOffset": 6.5, "columnPadding": 5, "padding": 0}}
                      }
                    },
                    {
                      "data": {"name": "cens"}, "transform": [{"filter": "datum.p === 'C'"}],
                      "mark": {"type": "point", "shape": "M-1,0H1M0,-1V1", "filled": false, "size": 40, "strokeWidth": 1, "opacity": 1},
                      "encoding": {
                        "x": {"field": "t", "type": "quantitative", "scale": {"domain": [-6, 126], "nice": false, "zero": false}},
                        "y": {"field": "s", "type": "quantitative", "scale": {"domain": [-0.05, 1.05], "nice": false, "zero": false}},
                        "stroke": {"field": "g", "type": "nominal", "scale": {"domain": ["atery", "spleen_resection", "none_action"], "range": ["#BF5BA6", "#2C47A8", "#3DAE33"]},
                          "legend": {"orient": "none", "legendX": 21, "legendY": -30.7, "direction": "horizontal", "title": null, "symbolType": "M-1,0H1M0,-0.45V0.45", "symbolSize": 132, "symbolStrokeWidth": 1.5, "symbolFillColor": "transparent", "labelFontSize": 10.3, "labelOpacity": 0, "labelOffset": 6.5, "columnPadding": 5, "padding": 0}}
                      }
                    },
                    {
                      "data": {"name": "med"}, "transform": [{"filter": "datum.p === 'C'"}],
                      "mark": {"type": "rule", "color": "#000000", "strokeDash": [3, 3], "strokeWidth": 0.8},
                      "encoding": {
                        "x": {"field": "t", "type": "quantitative", "scale": {"domain": [-6, 126], "nice": false, "zero": false}},
                        "x2": {"field": "t2"},
                        "y": {"field": "s", "type": "quantitative", "scale": {"domain": [-0.05, 1.05], "nice": false, "zero": false}},
                        "y2": {"field": "s2"}
                      }
                    },
                    {
                      "data": {"name": "rates"}, "transform": [{"filter": "datum.p === 'C'"}],
                      "mark": {"type": "text", "align": "right", "baseline": "middle", "fontSize": 8.8, "color": "#222222"},
                      "encoding": {
                        "x": {"field": "t", "type": "quantitative", "scale": {"domain": [-6, 126], "nice": false, "zero": false}},
                        "y": {"field": "s", "type": "quantitative", "scale": {"domain": [-0.05, 1.05], "nice": false, "zero": false}},
                        "text": {"field": "label"}
                      }
                    },
                    {
                      "data": {"name": "logrank"}, "transform": [{"filter": "datum.p === 'C'"}],
                      "mark": {"type": "text", "align": "left", "baseline": "middle", "fontSize": 11, "color": "#111111"},
                      "encoding": {
                        "x": {"field": "t", "type": "quantitative", "scale": {"domain": [-6, 126], "nice": false, "zero": false}},
                        "y": {"field": "s", "type": "quantitative", "scale": {"domain": [-0.05, 1.05], "nice": false, "zero": false}},
                        "text": {"field": "label"}
                      }
                    }
                  ]
                },
                {
                  "width": 260, "height": 29,
                  "title": {"text": "Number at risk", "anchor": "start", "frame": "group", "fontSize": 13.5, "fontWeight": "normal", "color": "#000000", "baseline": "alphabetic", "offset": 8.5, "dy": 13.5},
                  "data": {"name": "risk"}, "transform": [{"filter": "datum.p === 'C'"}],
                  "mark": {"type": "text", "fontSize": 10, "color": "#111111", "baseline": "middle"},
                  "encoding": {
                    "x": {"field": "t", "type": "quantitative", "scale": {"domain": [-6, 126], "nice": false, "zero": false},
                      "axis": {"title": "Overall Survival (Month)", "values": [0,15,30,45,60,75,90,105,120], "labelExpr": "datum.value % 30 === 0 ? datum.label : ''", "gridColor": {"condition": {"test": "datum.value % 30 !== 0", "value": "#f2f2f2"}, "value": "#e4e4e4"}, "tickOpacity": {"condition": {"test": "datum.value % 30 !== 0", "value": 0}, "value": 1}}},
                    "y": {"field": "g", "type": "nominal", "scale": {"type": "point", "domain": ["atery", "spleen_resection", "none_action"], "padding": 0.6},
                      "axis": {"title": null, "labelFontSize": 10, "gridColor": "#ececec", "labelColor": {"condition": [{"test": "datum.value === 'atery'", "value": "#BF5BA6"}, {"test": "datum.value === 'spleen_resection'", "value": "#2C47A8"}], "value": "#3DAE33"}}},
                    "text": {"field": "n", "type": "quantitative"}
                  }
                }
              ]
            },
            {
              "resolve": {"scale": {"fill": "independent", "stroke": "independent"}},
              "spacing": 13,
              "vconcat": [
                {
                  "width": 258, "height": 179,
                  "title": {"text": "D", "anchor": "start", "frame": "bounds", "font": "Liberation Serif", "fontSize": 33, "fontWeight": "normal", "color": "#231815", "baseline": "alphabetic", "offset": 0, "dx": 34, "dy": 41},
                  "layer": [
                    {
                      "data": {"name": "km"}, "transform": [{"filter": "datum.p === 'D'"}],
                      "mark": {"type": "area", "interpolate": "step-after", "fillOpacity": 0.3},
                      "encoding": {
                        "x": {"field": "t", "type": "quantitative", "scale": {"domain": [-6, 126], "nice": false, "zero": false},
                          "axis": {"title": "Relapse Free Survival (Month)", "values": [0,15,30,45,60,75,90,105,120], "labelExpr": "datum.value % 30 === 0 ? datum.label : ''", "gridColor": {"condition": {"test": "datum.value % 30 !== 0", "value": "#f2f2f2"}, "value": "#e4e4e4"}, "tickOpacity": {"condition": {"test": "datum.value % 30 !== 0", "value": 0}, "value": 1}}},
                        "y": {"field": "lo", "type": "quantitative", "stack": null, "scale": {"domain": [-0.05, 1.05], "nice": false, "zero": false},
                          "axis": {"title": "Survival probability", "titlePadding": 61, "values": [0,0.125,0.25,0.375,0.5,0.625,0.75,0.875,1], "format": ".2f", "labelExpr": "(datum.value * 8) % 2 === 0 ? datum.label : ''", "gridColor": {"condition": {"test": "(datum.value * 8) % 2 !== 0", "value": "#f2f2f2"}, "value": "#e4e4e4"}, "tickOpacity": {"condition": {"test": "(datum.value * 8) % 2 !== 0", "value": 0}, "value": 1}}},
                        "y2": {"field": "hi"},
                        "fill": {"field": "g", "type": "nominal", "sort": ["atery", "spleen_resection", "none_action"], "scale": {"range": ["#BF5BA6", "#2C47A8", "#3DAE33"]},
                          "legend": {"orient": "none", "legendX": 21, "legendY": -30.7, "direction": "horizontal", "title": null, "symbolType": "square", "symbolSize": 132, "symbolOpacity": 0.3, "symbolStrokeWidth": 0, "labelFontSize": 10.3, "labelColor": "#1a1a1a", "labelOffset": 6.5, "columnPadding": 5, "padding": 0}}
                      }
                    },
                    {
                      "data": {"name": "km"}, "transform": [{"filter": "datum.p === 'D'"}],
                      "mark": {"type": "line", "interpolate": "step-after", "strokeWidth": 1.7},
                      "encoding": {
                        "x": {"field": "t", "type": "quantitative", "scale": {"domain": [-6, 126], "nice": false, "zero": false}},
                        "y": {"field": "s", "type": "quantitative", "scale": {"domain": [-0.05, 1.05], "nice": false, "zero": false}},
                        "stroke": {"field": "g", "type": "nominal", "scale": {"domain": ["atery", "spleen_resection", "none_action"], "range": ["#BF5BA6", "#2C47A8", "#3DAE33"]},
                          "legend": {"orient": "none", "legendX": 21, "legendY": -30.7, "direction": "horizontal", "title": null, "symbolType": "M-1,0H1M0,-0.45V0.45", "symbolSize": 132, "symbolStrokeWidth": 1.5, "symbolFillColor": "transparent", "labelFontSize": 10.3, "labelOpacity": 0, "labelOffset": 6.5, "columnPadding": 5, "padding": 0}}
                      }
                    },
                    {
                      "data": {"name": "cens"}, "transform": [{"filter": "datum.p === 'D'"}],
                      "mark": {"type": "point", "shape": "M-1,0H1M0,-1V1", "filled": false, "size": 40, "strokeWidth": 1, "opacity": 1},
                      "encoding": {
                        "x": {"field": "t", "type": "quantitative", "scale": {"domain": [-6, 126], "nice": false, "zero": false}},
                        "y": {"field": "s", "type": "quantitative", "scale": {"domain": [-0.05, 1.05], "nice": false, "zero": false}},
                        "stroke": {"field": "g", "type": "nominal", "scale": {"domain": ["atery", "spleen_resection", "none_action"], "range": ["#BF5BA6", "#2C47A8", "#3DAE33"]},
                          "legend": {"orient": "none", "legendX": 21, "legendY": -30.7, "direction": "horizontal", "title": null, "symbolType": "M-1,0H1M0,-0.45V0.45", "symbolSize": 132, "symbolStrokeWidth": 1.5, "symbolFillColor": "transparent", "labelFontSize": 10.3, "labelOpacity": 0, "labelOffset": 6.5, "columnPadding": 5, "padding": 0}}
                      }
                    },
                    {
                      "data": {"name": "med"}, "transform": [{"filter": "datum.p === 'D'"}],
                      "mark": {"type": "rule", "color": "#000000", "strokeDash": [3, 3], "strokeWidth": 0.8},
                      "encoding": {
                        "x": {"field": "t", "type": "quantitative", "scale": {"domain": [-6, 126], "nice": false, "zero": false}},
                        "x2": {"field": "t2"},
                        "y": {"field": "s", "type": "quantitative", "scale": {"domain": [-0.05, 1.05], "nice": false, "zero": false}},
                        "y2": {"field": "s2"}
                      }
                    },
                    {
                      "data": {"name": "rates"}, "transform": [{"filter": "datum.p === 'D'"}],
                      "mark": {"type": "text", "align": "right", "baseline": "middle", "fontSize": 8.8, "color": "#222222"},
                      "encoding": {
                        "x": {"field": "t", "type": "quantitative", "scale": {"domain": [-6, 126], "nice": false, "zero": false}},
                        "y": {"field": "s", "type": "quantitative", "scale": {"domain": [-0.05, 1.05], "nice": false, "zero": false}},
                        "text": {"field": "label"}
                      }
                    },
                    {
                      "data": {"name": "logrank"}, "transform": [{"filter": "datum.p === 'D'"}],
                      "mark": {"type": "text", "align": "left", "baseline": "middle", "fontSize": 11, "color": "#111111"},
                      "encoding": {
                        "x": {"field": "t", "type": "quantitative", "scale": {"domain": [-6, 126], "nice": false, "zero": false}},
                        "y": {"field": "s", "type": "quantitative", "scale": {"domain": [-0.05, 1.05], "nice": false, "zero": false}},
                        "text": {"field": "label"}
                      }
                    }
                  ]
                },
                {
                  "width": 258, "height": 29,
                  "title": {"text": "Number at risk", "anchor": "start", "frame": "group", "fontSize": 13.5, "fontWeight": "normal", "color": "#000000", "baseline": "alphabetic", "offset": 8.5, "dy": 13.5},
                  "data": {"name": "risk"}, "transform": [{"filter": "datum.p === 'D'"}],
                  "mark": {"type": "text", "fontSize": 10, "color": "#111111", "baseline": "middle"},
                  "encoding": {
                    "x": {"field": "t", "type": "quantitative", "scale": {"domain": [-6, 126], "nice": false, "zero": false},
                      "axis": {"title": "Relapse Free Survival (Month)", "values": [0,15,30,45,60,75,90,105,120], "labelExpr": "datum.value % 30 === 0 ? datum.label : ''", "gridColor": {"condition": {"test": "datum.value % 30 !== 0", "value": "#f2f2f2"}, "value": "#e4e4e4"}, "tickOpacity": {"condition": {"test": "datum.value % 30 !== 0", "value": 0}, "value": 1}}},
                    "y": {"field": "g", "type": "nominal", "scale": {"type": "point", "domain": ["atery", "spleen_resection", "none_action"], "padding": 0.6},
                      "axis": {"title": null, "labelFontSize": 10, "gridColor": "#ececec", "labelColor": {"condition": [{"test": "datum.value === 'atery'", "value": "#BF5BA6"}, {"test": "datum.value === 'spleen_resection'", "value": "#2C47A8"}], "value": "#3DAE33"}}},
                    "text": {"field": "n", "type": "quantitative"}
                  }
                }
              ]
            }
          ]
        }
      ]
    }
  ]
}
